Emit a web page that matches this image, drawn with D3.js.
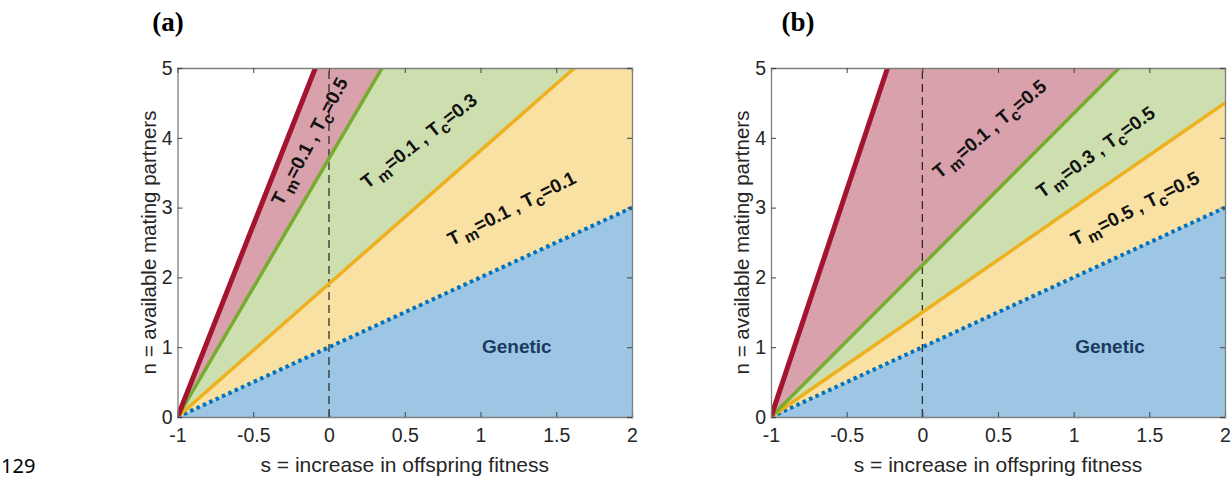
<!DOCTYPE html>
<html>
<head>
<meta charset="utf-8">
<script src="https://cdn.jsdelivr.net/npm/d3@7"></script>
<style>
  html, body { margin: 0; padding: 0; background: #fff; }
  svg { display: block; }
</style>
</head>
<body>
<svg id="chart" width="1232" height="479"></svg>
<script>
// ---------- data ----------
const xTicks = [-1, -0.5, 0, 0.5, 1, 1.5, 2];
const yTicks = [0, 1, 2, 3, 4, 5];
const xDomain = [-1, 2];
const yDomain = [0, 5];

// boundary lines [s, n] start/end points
const panelA_red    = [[-1, 0], [-0.09, 5]];
const panelA_green  = [[-1, 0], [0.35, 5]];
const panelA_yellow = [[-1, 0], [1.62, 5]];
const panelA_blue   = [[-1, 0], [2, 3]];

const panelB_red    = [[-1, 0], [-0.23, 5]];
const panelB_green  = [[-1, 0], [1.30, 5]];
const panelB_yellow = [[-1, 0], [2, 4.5]];
const panelB_blue   = [[-1, 0], [2, 3]];

// region labels: [T_m, T_c], position [s, n], angle
const panelA_labels = [
  { tm: "0.1", tc: "0.5", s: -0.12, n: 3.94, angle: -62 },
  { tm: "0.1", tc: "0.3", s: 0.60, n: 3.94, angle: -38 },
  { tm: "0.1", tc: "0.1", s: 1.21, n: 2.97, angle: -27 }
];
const panelB_labels = [
  { tm: "0.1", tc: "0.5", s: 0.45, n: 4.11, angle: -40 },
  { tm: "0.3", tc: "0.5", s: 1.15, n: 3.78, angle: -36 },
  { tm: "0.5", tc: "0.5", s: 1.41, n: 2.97, angle: -27 }
];
const geneticPos = [1.24, 0.99];

const xLabel = "s = increase in offspring fitness";
const yLabel = "n = available mating partners";

// ---------- styling ----------
const colors = {
  red: "#a2142f", green: "#77ac30", yellow: "#edb120", blue: "#0072bd",
  fillRed: "#d9a1ab", fillGreen: "#cddfae", fillYellow: "#f9e0a3", fillBlue: "#9dc6e5"
};

const svg = d3.select("#chart");
const yScale = d3.scaleLinear().domain(yDomain).range([417, 68]);

function drawPanel(left, right, lines, labels, letter, letterX) {
  const x = d3.scaleLinear().domain(xDomain).range([left, right]);
  const y = yScale;
  const g = svg.append("g");

  // fill polygons: region below each boundary within the plot box
  function below(line) {
    const pts = [line[0], line[1]];
    const end = line[1];
    if (end[1] >= yDomain[1] && end[0] < xDomain[1]) pts.push([xDomain[1], yDomain[1]]);
    pts.push([xDomain[1], yDomain[0]]);
    return pts;
  }
  const poly = d3.line().x(d => x(d[0])).y(d => y(d[1]));
  const fills = [
    [lines.red, colors.fillRed],
    [lines.green, colors.fillGreen],
    [lines.yellow, colors.fillYellow],
    [lines.blue, colors.fillBlue]
  ];
  fills.forEach(([l, c]) => {
    g.append("path").attr("d", poly(below(l)) + "Z").attr("fill", c).attr("stroke", "none");
  });

  // dashed s=0 line
  g.append("line")
    .attr("x1", x(0)).attr("x2", x(0)).attr("y1", y(0)).attr("y2", y(5))
    .attr("stroke", "#222").attr("stroke-width", 1.2).attr("stroke-dasharray", "8,5");

  // boundary lines
  const clipId = "clip" + letter;
  svg.append("clipPath").attr("id", clipId).append("rect")
    .attr("x", left).attr("y", y(5)).attr("width", right - left).attr("height", y(0) - y(5));
  const lg = g.append("g").attr("clip-path", `url(#${clipId})`);
  lg.append("path").attr("d", poly(lines.blue)).attr("stroke", colors.blue)
    .attr("stroke-width", 4).attr("stroke-dasharray", "3.5,3.5").attr("fill", "none");
  lg.append("path").attr("d", poly(lines.yellow)).attr("stroke", colors.yellow)
    .attr("stroke-width", 3.5).attr("fill", "none");
  lg.append("path").attr("d", poly(lines.green)).attr("stroke", colors.green)
    .attr("stroke-width", 3.5).attr("fill", "none");
  lg.append("path").attr("d", poly(lines.red)).attr("stroke", colors.red)
    .attr("stroke-width", 5).attr("fill", "none");

  // axes (box with inward ticks on all sides)
  const axisColor = "#7f7f7f";
  const tickLen = 5;
  const bottom = g.append("g").attr("transform", `translate(0,${y(0)})`)
    .call(d3.axisBottom(x).tickValues(xTicks).tickSize(-tickLen).tickPadding(9).tickFormat(d => String(d)));
  const top = g.append("g").attr("transform", `translate(0,${y(5)})`)
    .call(d3.axisTop(x).tickValues(xTicks).tickSize(-tickLen).tickFormat(""));
  const leftAx = g.append("g").attr("transform", `translate(${left},0)`)
    .call(d3.axisLeft(y).tickValues(yTicks).tickSize(-tickLen).tickPadding(5).tickFormat(d => String(d)));
  const rightAx = g.append("g").attr("transform", `translate(${right},0)`)
    .call(d3.axisRight(y).tickValues(yTicks).tickSize(-tickLen).tickFormat(""));
  [bottom, top, leftAx, rightAx].forEach(a => {
    a.select(".domain").attr("stroke", axisColor).attr("stroke-width", 1.3);
    a.selectAll(".tick line").attr("stroke", "#444").attr("stroke-width", 1);
    a.selectAll("text").attr("fill", "#262626")
      .style("font-family", "'Liberation Sans', Arial, sans-serif").style("font-size", "19.5px");
  });
  bottom.selectAll(".tick text").attr("dy", "0.8em");

  // axis titles
  g.append("text").attr("x", (left + right) / 2).attr("y", 472)
    .attr("text-anchor", "middle").attr("fill", "#262626")
    .style("font-family", "'Liberation Sans', Arial, sans-serif").style("font-size", "21px")
    .text(xLabel);
  g.append("text")
    .attr("transform", `translate(${left - 22},${(y(0) + y(5)) / 2}) rotate(-90)`)
    .attr("text-anchor", "middle").attr("fill", "#262626")
    .style("font-family", "'Liberation Sans', Arial, sans-serif").style("font-size", "20.5px")
    .text(yLabel);

  // region labels
  labels.forEach(L => {
    const t = g.append("text")
      .attr("transform", `translate(${x(L.s)},${y(L.n)}) rotate(${L.angle})`)
      .attr("text-anchor", "middle").attr("dominant-baseline", "middle")
      .attr("fill", "#111")
      .style("font-family", "'Liberation Sans', Arial, sans-serif")
      .style("font-weight", "bold").style("font-size", "19px");
    t.append("tspan").text("T");
    t.append("tspan").attr("dx", 4).attr("dy", 6).style("font-size", "16px").text("m");
    t.append("tspan").attr("dy", -6).text("=" + L.tm + " , T");
    t.append("tspan").attr("dy", 6).style("font-size", "16px").text("c");
    t.append("tspan").attr("dy", -6).text("=" + L.tc);
  });

  g.append("text").attr("x", x(geneticPos[0])).attr("y", y(geneticPos[1]))
    .attr("text-anchor", "middle").attr("dominant-baseline", "middle")
    .attr("fill", "#1b3a5c")
    .style("font-family", "'Liberation Sans', Arial, sans-serif")
    .style("font-weight", "bold").style("font-size", "19px")
    .text("Genetic");

  // panel letter
  g.append("text").attr("x", letterX).attr("y", 31)
    .attr("text-anchor", "middle").attr("fill", "#000")
    .style("font-family", "'Liberation Serif', 'Times New Roman', serif")
    .style("font-weight", "bold").style("font-size", "27px")
    .text("(" + letter + ")");
}

drawPanel(177.5, 632,
  { red: panelA_red, green: panelA_green, yellow: panelA_yellow, blue: panelA_blue },
  panelA_labels, "a", 168);
drawPanel(771, 1225,
  { red: panelB_red, green: panelB_green, yellow: panelB_yellow, blue: panelB_blue },
  panelB_labels, "b", 798);

// page line number
svg.append("text").attr("x", 1).attr("y", 473).attr("fill", "#000")
  .style("font-family", "'Noto Sans', 'Open Sans', sans-serif").style("font-size", "20px")
  .text("129");
</script>
</body>
</html>
